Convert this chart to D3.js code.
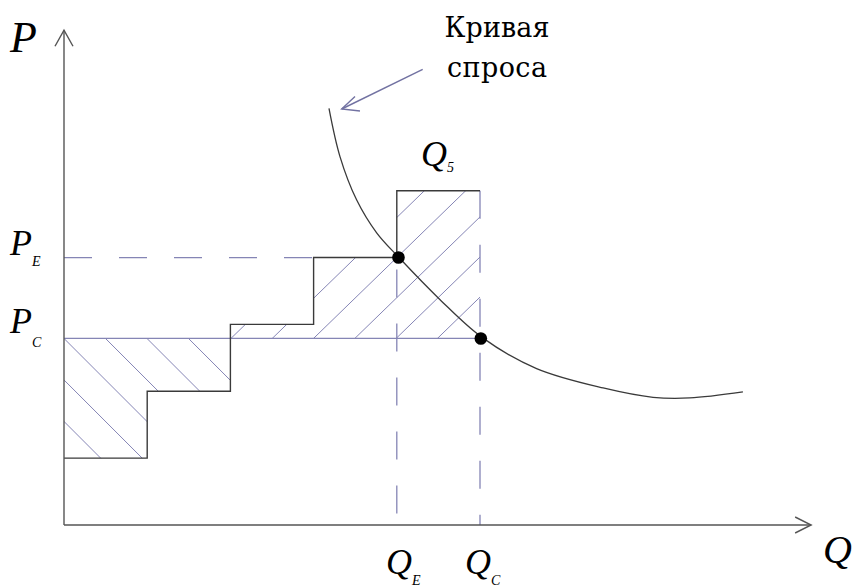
<!DOCTYPE html>
<html>
<head>
<meta charset="utf-8">
<script src="https://cdn.jsdelivr.net/npm/d3@7"></script>
<style>
  body { margin: 0; background: #fff; }
  text { font-family: "Liberation Serif", "DejaVu Serif", serif; fill: #000; }
</style>
</head>
<body>
<script>
// supply steps: each unit of quantity and the price asked for it
let stepQ = [0, 1, 2, 3, 4, 5];
let stepP = [1, 2, 3, 4, 5];

let PC = 2.79;
let PE = 4;
let QE = 4.02;
let QC = 5.01;

// demand curve
let demandQ = [3.185, 3.317, 3.518, 3.758, 4.026, 4.52, 5.02, 5.68, 6.48, 7.08, 7.52, 8.16];
let demandP = [6.23, 5.51, 4.86, 4.37, 4.00, 3.37, 2.81, 2.34, 2.05, 1.91, 1.90, 1.99];

let axisMaxQ = 8.98;
let axisMaxP = 7.4;

let SvgWidth = 857;
let SvgHeight = 588;

let Svg = d3.select("body")
    .append("svg")
    .attr("width", SvgWidth)
    .attr("height", SvgHeight);

let x = d3.scaleLinear().domain([0, 5]).range([64, 480]);
let y = d3.scaleLinear().domain([0, 5]).range([525, 190.7]);

let blue = "#8585b5";
let dark = "#3a3a3a";

// hatch clip regions
let defs = Svg.append("defs");

let leftPoly = [[0, PC], [stepQ[2], PC], [stepQ[2], stepP[1]], [stepQ[1], stepP[1]], [stepQ[1], stepP[0]], [0, stepP[0]]];
let rightPoly = [[stepQ[2], PC], [stepQ[2], stepP[2]], [stepQ[3], stepP[2]], [stepQ[3], stepP[3]],
    [stepQ[4], stepP[3]], [stepQ[4], stepP[4]], [stepQ[5], stepP[4]], [stepQ[5], PC]];

let polyPath = pts => "M" + pts.map(p => `${x(p[0])},${y(p[1])}`).join("L") + "Z";

defs.append("clipPath").attr("id", "clipL").append("path").attr("d", polyPath(leftPoly));
defs.append("clipPath").attr("id", "clipR").append("path").attr("d", polyPath(rightPoly));

let yPC = y(PC);

let hatchL = Svg.append("g").attr("clip-path", "url(#clipL)");
d3.range(-4, 6).forEach(k => {
    let c = x(0) + k * 41.5;
    hatchL.append("line")
        .attr("x1", c - 200).attr("y1", yPC - 200)
        .attr("x2", c + 300).attr("y2", yPC + 300)
        .attr("stroke", blue).attr("stroke-width", 1);
});

let hatchR = Svg.append("g").attr("clip-path", "url(#clipR)");
d3.range(-2, 10).forEach(k => {
    let c = x(stepQ[2]) + 0.5 + k * 41.3;
    hatchR.append("line")
        .attr("x1", c - 200 * 1.03).attr("y1", yPC + 200)
        .attr("x2", c + 300 * 1.03).attr("y2", yPC - 300)
        .attr("stroke", blue).attr("stroke-width", 1);
});

// PC solid line
Svg.append("line")
    .attr("x1", x(0)).attr("y1", y(PC))
    .attr("x2", x(QC)).attr("y2", y(PC))
    .attr("stroke", blue).attr("stroke-width", 1.3);

// PE dashed line
Svg.append("line")
    .attr("x1", x(0)).attr("y1", y(PE))
    .attr("x2", x(stepQ[3])).attr("y2", y(PE))
    .attr("stroke", blue).attr("stroke-width", 1.3)
    .attr("stroke-dasharray", "28,27");

// QE dashed line
Svg.append("line")
    .attr("x1", x(4)).attr("y1", y(PE))
    .attr("x2", x(4)).attr("y2", y(0))
    .attr("stroke", blue).attr("stroke-width", 1.3)
    .attr("stroke-dasharray", "28,26")
    .attr("stroke-dashoffset", 42);

// QC dashed line
Svg.append("line")
    .attr("x1", x(stepQ[5])).attr("y1", y(stepP[4]))
    .attr("x2", x(stepQ[5])).attr("y2", y(0))
    .attr("stroke", blue).attr("stroke-width", 1.3)
    .attr("stroke-dasharray", "28,26");

// staircase
let stairPts = [];
stepP.forEach((p, i) => {
    stairPts.push([stepQ[i], p]);
    stairPts.push([stepQ[i + 1], p]);
});
Svg.append("path")
    .attr("d", d3.line().x(d => x(d[0])).y(d => y(d[1]))(stairPts))
    .attr("fill", "none")
    .attr("stroke", dark)
    .attr("stroke-width", 1.4);

// axes
let axisColor = "#555";
Svg.append("line")
    .attr("x1", x(0)).attr("y1", y(0))
    .attr("x2", x(0)).attr("y2", y(axisMaxP))
    .attr("stroke", axisColor).attr("stroke-width", 1.4);
Svg.append("path")
    .attr("d", `M${x(0) - 9},${y(axisMaxP) + 16}L${x(0)},${y(axisMaxP)}L${x(0) + 9},${y(axisMaxP) + 16}`)
    .attr("fill", "none").attr("stroke", axisColor).attr("stroke-width", 1.4);

Svg.append("line")
    .attr("x1", x(0)).attr("y1", y(0))
    .attr("x2", x(axisMaxQ)).attr("y2", y(0))
    .attr("stroke", axisColor).attr("stroke-width", 1.4);
Svg.append("path")
    .attr("d", `M${x(axisMaxQ) - 16},${y(0) - 8}L${x(axisMaxQ)},${y(0)}L${x(axisMaxQ) - 16},${y(0) + 8}`)
    .attr("fill", "none").attr("stroke", axisColor).attr("stroke-width", 1.4);

// demand curve
let demand = demandQ.map((q, i) => [q, demandP[i]]);
Svg.append("path")
    .attr("d", d3.line().x(d => x(d[0])).y(d => y(d[1])).curve(d3.curveCatmullRom)(demand))
    .attr("fill", "none")
    .attr("stroke", dark)
    .attr("stroke-width", 1.3);

// equilibrium dots
Svg.selectAll("circle.eq")
    .data([[QE, PE], [QC, PC]])
    .enter()
    .append("circle")
    .attr("cx", d => x(d[0]))
    .attr("cy", d => y(d[1]))
    .attr("r", 6.3)
    .attr("fill", "#000");

// label pointer
let arrowColor = "#7272a2";
Svg.append("line")
    .attr("x1", 422.7).attr("y1", 69.3)
    .attr("x2", 341.7).attr("y2", 109)
    .attr("stroke", arrowColor).attr("stroke-width", 1.4);
Svg.append("path")
    .attr("d", "M355,96.5L341.7,109L360,111")
    .attr("fill", "none").attr("stroke", arrowColor).attr("stroke-width", 1.4);

let captionFont = "'DejaVu Serif', 'Liberation Serif', serif";
Svg.append("text")
    .attr("x", 497).attr("y", 37)
    .attr("text-anchor", "middle")
    .style("font-family", captionFont)
    .attr("font-size", 27)
    .attr("textLength", 105)
    .text("Кривая");
Svg.append("text")
    .attr("x", 497).attr("y", 77)
    .attr("text-anchor", "middle")
    .style("font-family", captionFont)
    .attr("font-size", 27)
    .attr("textLength", 100)
    .text("спроса");

// axis labels
function label(tx, ty, main, sub, size, subDx, subDy) {
    let t = Svg.append("text")
        .attr("x", tx).attr("y", ty)
        .attr("font-style", "italic")
        .attr("font-size", size)
        .text(main);
    if (sub) {
        t.append("tspan")
            .attr("dx", subDx).attr("dy", subDy)
            .attr("font-size", 14)
            .text(sub);
    }
}

label(10, 52, "P", null, 44);
label(10, 255, "P", "E", 36, 0, 11);
label(10, 333, "P", "C", 36, 0, 14);
label(421, 166, "Q", "5", 36, 0, 6);
label(386, 574, "Q", "E", 36, 0, 11);
label(465, 574, "Q", "C", 36, 0, 11);
label(823, 563, "Q", null, 40);
</script>
</body>
</html>
